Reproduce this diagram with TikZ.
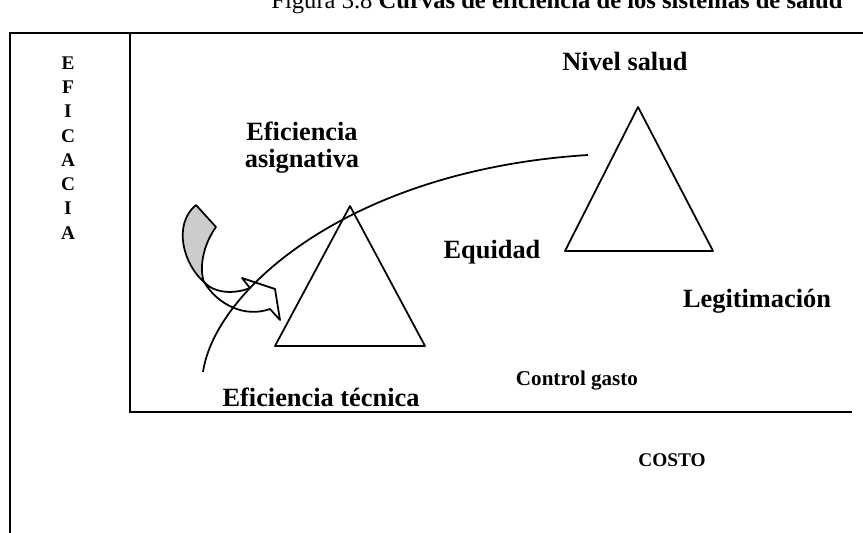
\documentclass[tikz,border=0pt]{standalone}
\usepackage{fontspec}
\setmainfont{Liberation Serif}
\usetikzlibrary{positioning}

\begin{document}
\begin{tikzpicture}[
    x=0.02cm, y=-0.02cm,
    texto/.style={font=\fontsize{15}{15.5}\selectfont\bfseries, align=center, inner sep=0pt},
    letra/.style={font=\fontsize{11}{13.8}\selectfont\bfseries, align=center, inner sep=0pt},
    marco/.style={line width=1.3pt},
    trazo/.style={line width=1pt, line join=round}
]
\useasboundingbox (0,0) rectangle (863,533);

% Titulo (cortado arriba)
\node[font=\fontsize{14}{16}\selectfont, anchor=base, inner sep=0pt] (titulo) at (557,9) {Figura 3.8 \textbf{Curvas de eficiencia de los sistemas de salud}};

% Marcos
\draw[marco] (10,545) -- (10,33) -- (875,33);
\draw[marco] (130,33) -- (130,412) -- (852,412);

% Ejes
\node[letra] (eficacia) at (68,148) {E\\F\\I\\C\\A\\C\\I\\A};
\node[letra] (costo) at (672,460) {COSTO};

% Triangulos
\coordinate (tecA) at (350,206);
\coordinate (tecB) at (275,346);
\coordinate (tecC) at (425,346);
\coordinate (salA) at (638,107);
\coordinate (salB) at (565,251);
\coordinate (salC) at (713,251);
\draw[trazo] (tecA) -- (tecC) -- (tecB) -- cycle;
\draw[trazo] (salA) -- (salC) -- (salB) -- cycle;

% Flecha curva
\draw[trazo, fill=gray!40] (196,205) -- (216,227) .. controls (203,245) and (199,268) .. (204,282)
    .. controls (184,265) and (172,225) .. (196,205);
\draw[trazo, fill=white] (204,282) .. controls (215,294) and (235,294) .. (250,288) -- (242,278)
    -- (275,289) -- (280,320) -- (270,309) .. controls (245,318) and (218,305) .. (204,282);

% Curva de eficiencia
\draw[trazo] (203,372) .. controls (215,290) and (350,170) .. (588,155);

% Etiquetas
\node[texto] (nivel) at (625,62) {Nivel salud};
\node[texto] (asig) at (302,148) {Eficiencia\\asignativa};
\node[texto] (equidad) at (492,252) {Equidad};
\node[texto] (legit) at (757,301) {Legitimación};
\node[texto] (tecnica) at (321,397) {Eficiencia técnica};
\node[font=\fontsize{12}{14}\selectfont\bfseries, inner sep=0pt] (gasto) at (577,381) {Control gasto};

\end{tikzpicture}
\end{document}
